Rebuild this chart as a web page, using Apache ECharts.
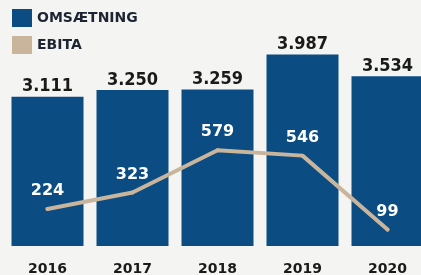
<!DOCTYPE html>
<html lang="da">
<head>
  <meta charset="utf-8" />
  <title>Omsætning og EBITA</title>
  <script src="https://cdn.jsdelivr.net/npm/echarts@6.0.0/dist/echarts.min.js"></script>
  <style>
    html, body { margin: 0; padding: 0; background: #f4f4f2; }
    #chart { width: 421px; height: 275px; }
  </style>
</head>
<body>
<div id="chart"></div>
<script type="text/javascript">
    // data (mio. kr.)
    var years = ['2016', '2017', '2018', '2019', '2020'];
    var omsaetning = [3111, 3250, 3259, 3987, 3534];
    var ebita = [224, 323, 579, 546, 99];

    var chart = echarts.init(document.getElementById('chart'));

    // 3111 -> "3.111"
    function dotThousands(v) {
        return String(v).replace(/\B(?=(\d{3})+(?!\d))/g, '.');
    }

    var option = {
        backgroundColor: '#f4f4f2',
        animation: false,
        legend: {
            orient: 'vertical',
            left: 12,
            top: 9,
            padding: 0,
            itemWidth: 20,
            itemHeight: 18,
            itemGap: 9,
            icon: 'rect',
            textStyle: {
                color: '#1d2533',
                fontFamily: 'DejaVu Sans',
                fontWeight: 'bold',
                fontSize: 14
            },
            data: ['OMSÆTNING', 'EBITA']
        },
        grid: {
            left: 5,
            width: 425,
            top: 54,
            bottom: 29,
            outerBoundsMode: 'none'
        },
        xAxis: {
            type: 'category',
            data: years,
            axisLine: { show: false },
            axisTick: { show: false },
            axisLabel: {
                margin: 16,
                color: '#1a1a1a',
                fontFamily: 'DejaVu Sans',
                fontWeight: 'bold',
                fontSize: 14
            }
        },
        yAxis: [
            { type: 'value', min: 0, max: 4000, show: false },
            { type: 'value', min: 0, max: 1160, show: false }
        ],
        series: [
            {
                name: 'OMSÆTNING',
                type: 'bar',
                data: omsaetning,
                barWidth: 72,
                itemStyle: { color: '#0b4c82' },
                label: {
                    show: true,
                    position: 'top',
                    distance: 1,
                    color: '#1a1a1a',
                    fontFamily: '"DejaVu Sans Condensed", "DejaVu Sans"',
                    fontWeight: 'bold',
                    fontSize: 18,
                    formatter: function (p) { return dotThousands(p.value); }
                }
            },
            {
                name: 'EBITA',
                type: 'line',
                yAxisIndex: 1,
                data: ebita,
                symbol: 'circle',
                symbolSize: 4,
                showSymbol: true,
                lineStyle: { color: '#c9b59c', width: 4, cap: 'round', join: 'round' },
                itemStyle: { color: '#c9b59c' },
                label: {
                    show: true,
                    position: 'top',
                    distance: 8,
                    color: '#ffffff',
                    fontFamily: 'DejaVu Sans',
                    fontWeight: 'bold',
                    fontSize: 16
                }
            }
        ]
    };
    chart.setOption(option);
</script>
</body>
</html>
